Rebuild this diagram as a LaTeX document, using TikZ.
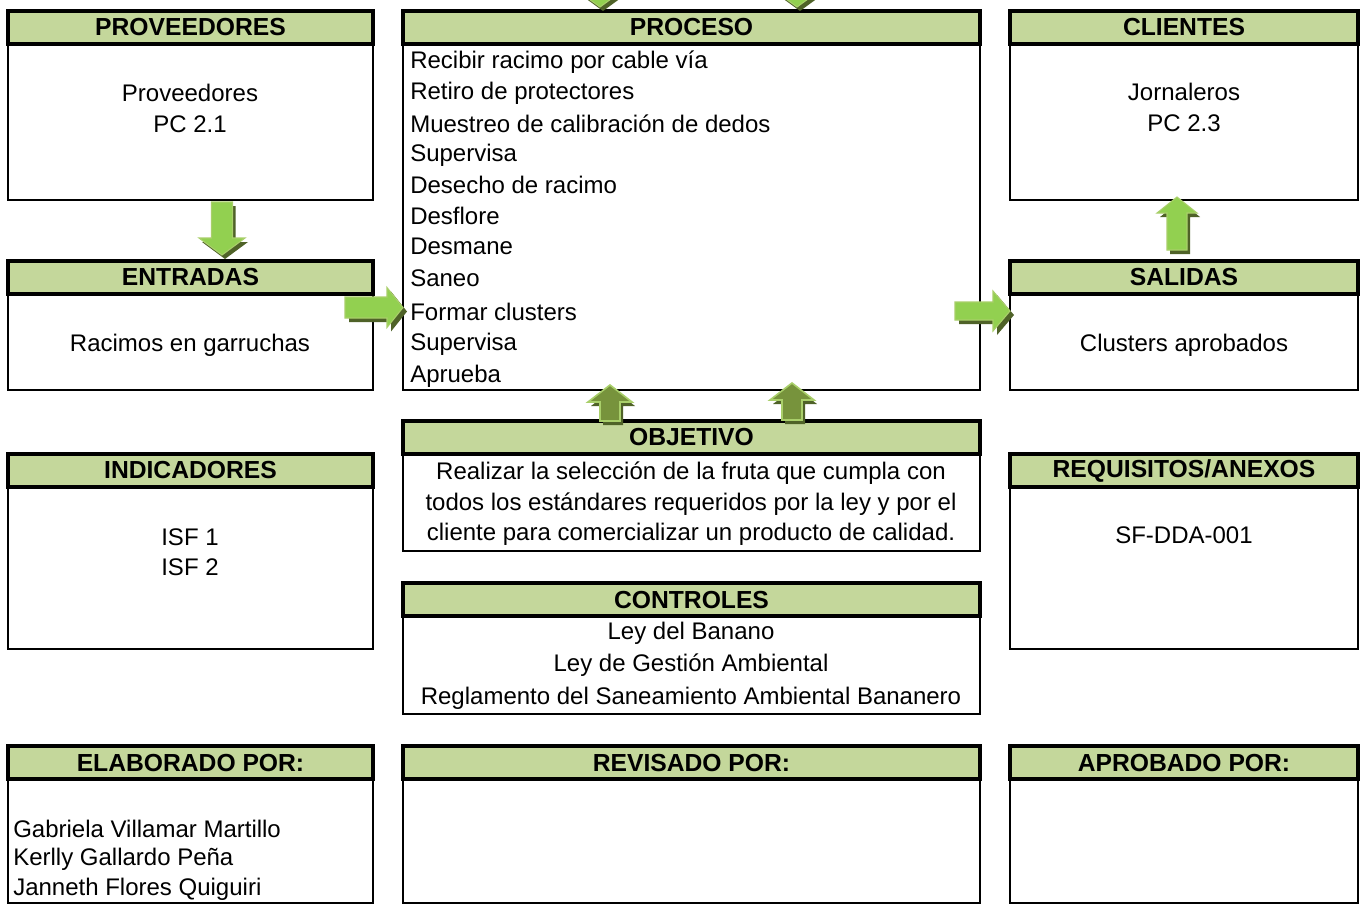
\documentclass[tikz,border=0pt]{standalone}
\usepackage{fontspec}
\setmainfont{Liberation Sans}
\usetikzlibrary{fit}
\definecolor{hdrgreen}{HTML}{C4D79B}
\definecolor{arrfill}{HTML}{92D050}
\definecolor{arrline}{HTML}{A9CF6A}
\definecolor{arrshadow}{HTML}{4F6228}
\definecolor{arrdark}{HTML}{77933C}
\newcommand\varrowshape[7]{%
  \fill[arrshadow] ({#1-#5+3},{#2+4}) -- ({#1-#5+3},{#3+4}) -- ({#1-#6+3},{#3+4}) -- ({#1+3},{#4+4}) -- ({#1+#6+3},{#3+4}) -- ({#1+#5+3},{#3+4}) -- ({#1+#5+3},{#2+4}) -- cycle;
  \filldraw[#7] ({#1-#5},#2) -- ({#1-#5},#3) -- ({#1-#6},#3) -- (#1,#4) -- ({#1+#6},#3) -- ({#1+#5},#3) -- ({#1+#5},#2) -- cycle;}
\newcommand\harrowshape[7]{%
  \fill[arrshadow] ({#2+4},{#1-#5+4}) -- ({#3+4},{#1-#5+4}) -- ({#3+4},{#1-#6+4}) -- ({#4+4},{#1+4}) -- ({#3+4},{#1+#6+4}) -- ({#3+4},{#1+#5+4}) -- ({#2+4},{#1+#5+4}) -- cycle;
  \filldraw[#7] (#2,{#1-#5}) -- (#3,{#1-#5}) -- (#3,{#1-#6}) -- (#4,#1) -- (#3,{#1+#6}) -- (#3,{#1+#5}) -- (#2,{#1+#5}) -- cycle;}
\tikzset{
  x=0.75pt, y=-0.75pt,
  every node/.style={font=\fontsize{18}{22}\selectfont, inner sep=0pt},
  bodybox/.style={draw=black, line width=1.1pt, fill=white, inner sep=0pt},
  hdrbox/.style={draw=black, line width=2.3pt, fill=hdrgreen, inner sep=0pt},
  hdrtxt/.style={font=\fontsize{18.5}{22}\selectfont\bfseries},
  lightarrow/.style={fill=arrfill, draw=arrline, line width=0.8pt},
  darkarrow/.style={fill=arrdark, draw=arrline, line width=1.2pt},
  txt/.style={font=\fontsize{18}{22}\selectfont},
  lst/.style={font=\fontsize{18}{22}\selectfont, anchor=west}
}
\newcommand\panel[7]{%
  \node[bodybox, fit={(#2,#5)(#4,#6)}] (#1-b) {};
  \node[hdrbox, fit={(#2,#3)(#4,#5)}] (#1) {};
  \node[hdrtxt] (#1-t) at (#1.center) {#7};}
\begin{document}
\begin{tikzpicture}
\useasboundingbox (0,0) rectangle (1365,904);
\clip (0,0) rectangle (1365,904);
\fill[white] (0,0) rectangle (1365,904);

% panels
\panel{prov}{8}{11}{373}{44}{200}{PROVEEDORES}
\panel{proc}{403}{11}{980}{44}{390}{PROCESO}
\panel{cli}{1010}{11}{1358}{44}{200}{CLIENTES}
\panel{ent}{8}{261}{373}{294}{390}{ENTRADAS}
\panel{sal}{1010}{261}{1358}{294}{390}{SALIDAS}
\panel{obj}{403}{421}{980}{454}{551}{OBJETIVO}
\panel{ind}{8}{454}{373}{487}{649}{INDICADORES}
\panel{req}{1010}{454}{1358}{487}{649}{REQUISITOS/ANEXOS}
\panel{ctl}{403}{583}{980}{616}{714}{CONTROLES}
\panel{ela}{8}{746}{373}{779}{903}{ELABORADO POR:}
\panel{rev}{403}{746}{980}{779}{903}{REVISADO POR:}
\panel{apr}{1010}{746}{1358}{779}{903}{APROBADO POR:}

% texts
\node[txt] (t-prov1) at (190,93) {Proveedores};
\node[txt] (t-prov2) at (190,124) {PC 2.1};
\node[txt] (t-cli1) at (1184,92) {Jornaleros};
\node[txt] (t-cli2) at (1184,123) {PC 2.3};
\node[txt] (t-ent) at (190,345) {Racimos en garruchas};
\node[txt] (t-sal) at (1184,345) {Clusters aprobados};
\node[txt] (t-ind1) at (190,537) {ISF 1};
\node[txt] (t-ind2) at (190,567) {ISF 2};
\node[txt] (t-req) at (1184,535) {SF-DDA-001};

\node[lst] (p1) at (410,62) {Recibir racimo por cable vía};
\node[lst] (p2) at (410,93) {Retiro de protectores};
\node[lst] (p3) at (410,124) {Muestreo de calibración de dedos};
\node[lst] (p4) at (410,155) {Supervisa};
\node[lst] (p5) at (410,185) {Desecho de racimo};
\node[lst] (p6) at (410,216) {Desflore};
\node[lst] (p7) at (410,246) {Desmane};
\node[lst] (p8) at (410,278) {Saneo};
\node[lst] (p9) at (410,312) {Formar clusters};
\node[lst] (p10) at (410,344) {Supervisa};
\node[lst] (p11) at (410,376) {Aprueba};

\node[txt] (o1) at (691,473) {Realizar la selección de la fruta que cumpla con};
\node[txt] (o2) at (691,504) {todos los estándares requeridos por la ley y por el};
\node[txt] (o3) at (691,534) {cliente para comercializar un producto de calidad.};

\node[txt] (c1) at (691,633) {Ley del Banano};
\node[txt] (c2) at (691,665) {Ley de Gestión Ambiental};
\node[txt] (c3) at (691,698) {Reglamento del Saneamiento Ambiental Bananero};

\node[lst] (e1) at (13,829) {Gabriela Villamar Martillo};
\node[lst] (e2) at (13,859) {Kerlly Gallardo Peña};
\node[lst] (e3) at (13,889) {Janneth Flores Quiguiri};

% block arrows
\varrowshape{222}{202}{238}{255}{10.5}{23}{lightarrow}
\harrowshape{307.5}{345}{387}{403}{10.5}{20}{lightarrow}
\harrowshape{311}{955}{993}{1010}{9}{20}{lightarrow}
\varrowshape{1177}{250}{213}{197}{10}{20}{lightarrow}
\varrowshape{610}{421}{402}{385}{10}{22}{darkarrow}
\varrowshape{792}{420}{400}{383}{10}{22}{darkarrow}
\varrowshape{600}{-40}{-9}{7}{10}{22}{lightarrow}
\varrowshape{797}{-40}{-9}{7}{10}{22}{lightarrow}
\end{tikzpicture}
\end{document}
